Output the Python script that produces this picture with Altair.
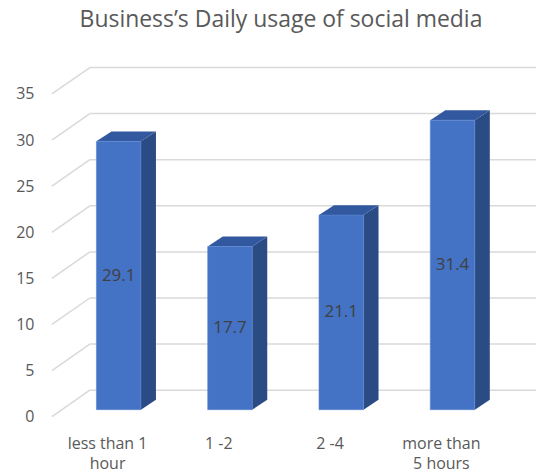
import altair as alt
import pandas as pd

# ---- data ----
categories = ["less than 1\nhour", "1 -2", "2 -4", "more than\n5 hours"]
values = [29.1, 17.7, 21.1, 31.4]
y_ticks = [0, 5, 10, 15, 20, 25, 30, 35]
title_text = "Business\u2019s Daily usage of social media"

# ---- geometry / style constants ----
XMIN, XMAX = -0.6, 3.75
YMIN, YMAX = 0, 38
HALF = 0.2          # half width of bar front face (category units)
BASE = 0.76         # bar base lift (value units, perspective)
SIDE_DX, SIDE_DY = 0.135, 1.08   # bar depth
WALL_DX, WALL_DY = 0.341, 2.87   # back wall depth
LABEL_SHIFT = 0.1

FRONT = "#4472C4"
SIDE = "#2B4B84"
TOP = "#32599F"
GRID = "#D9D9D9"
TXT = "#595959"
FONT = "Open Sans"

n = len(values)
bars = pd.DataFrame({
    "idx": list(range(n)),
    "cat": categories,
    "value": values,
})
bars["x1"] = bars["idx"] - HALF
bars["x2"] = bars["idx"] + HALF
bars["y1"] = BASE
bars["y2"] = bars["value"] + BASE
bars["ym"] = (bars["y1"] + bars["y2"]) / 2
bars["lab"] = bars["value"].map(lambda v: f"{v:.1f}")
bars["xl"] = bars["idx"] - LABEL_SHIFT
bars["y0"] = 0

side_rows, top_rows = [], []
for i, v in enumerate(values):
    side_rows.append({"idx": i, "x": i + HALF, "lo": BASE, "hi": v + BASE})
    side_rows.append({"idx": i, "x": i + HALF + SIDE_DX, "lo": BASE + SIDE_DY, "hi": v + BASE + SIDE_DY})
    top_rows.append({"idx": i, "y": v + BASE, "a": i - HALF, "b": i + HALF})
    top_rows.append({"idx": i, "y": v + BASE + SIDE_DY, "a": i - HALF + SIDE_DX, "b": i + HALF + SIDE_DX})
side = pd.DataFrame(side_rows)
top = pd.DataFrame(top_rows)

grid = pd.DataFrame({"t": y_ticks})
grid["xa"] = XMIN
grid["xb"] = XMIN + WALL_DX
grid["xc"] = XMAX
grid["yb"] = grid["t"] + WALL_DY

xs = alt.Scale(domain=[XMIN, XMAX], nice=False, zero=False)
ys = alt.Scale(domain=[YMIN, YMAX], nice=False, zero=False)
yaxis = alt.Axis(values=y_ticks, grid=False, domain=False, ticks=False,
                 labelPadding=18, labelFontSize=16, labelColor=TXT,
                 labelFont=FONT, title=None)

diag = alt.Chart(grid).mark_rule(color=GRID, strokeWidth=1.5).encode(
    x=alt.X("xa:Q", scale=xs, axis=None),
    x2="xb:Q",
    y=alt.Y("t:Q", scale=ys, axis=yaxis),
    y2="yb:Q",
)
wall = alt.Chart(grid).mark_rule(color=GRID, strokeWidth=1.5).encode(
    x=alt.X("xb:Q", scale=xs, axis=None),
    x2="xc:Q",
    y=alt.Y("yb:Q", scale=ys, axis=yaxis),
)

front = alt.Chart(bars).mark_bar(color=FRONT, stroke="#5B86D0", strokeWidth=0.6).encode(
    x=alt.X("x1:Q", scale=xs, axis=None),
    x2="x2:Q",
    y=alt.Y("y1:Q", scale=ys, axis=yaxis),
    y2="y2:Q",
)
side_face = alt.Chart(side).mark_area(color=SIDE, orient="vertical").encode(
    x=alt.X("x:Q", scale=xs, axis=None),
    y=alt.Y("hi:Q", scale=ys, axis=yaxis, stack=None),
    y2="lo:Q",
    detail="idx:N",
)
top_face = alt.Chart(top).mark_area(color=TOP, orient="horizontal").encode(
    y=alt.Y("y:Q", scale=ys, axis=yaxis),
    x=alt.X("a:Q", scale=xs, axis=None, stack=None),
    x2="b:Q",
    detail="idx:N",
)
vlabels = alt.Chart(bars).mark_text(font=FONT, fontSize=17, color="#404040").encode(
    x=alt.X("idx:Q", scale=xs, axis=None),
    y=alt.Y("ym:Q", scale=ys, axis=yaxis),
    text="lab:N",
)
clabels = alt.Chart(bars).mark_text(font=FONT, fontSize=16, color=TXT, baseline="top",
                                    dy=19, lineBreak="\n", lineHeight=20).encode(
    x=alt.X("xl:Q", scale=xs, axis=None),
    y=alt.Y("y0:Q", scale=ys, axis=yaxis),
    text="cat:N",
)

chart = alt.layer(diag, wall, side_face, top_face, front, vlabels, clabels).properties(
    width=485, height=351,
    title=alt.TitleParams(title_text, font=FONT, fontSize=23, fontWeight="normal",
                          color=TXT, anchor="middle", dx=-13, offset=34),
    autosize=alt.AutoSizeParams(type="none"),
    padding={"left": 52, "top": 66, "right": 0, "bottom": 56},
).configure_view(stroke=None)

chart.save("out.html", embed_options={"renderer": "svg", "actions": False})
